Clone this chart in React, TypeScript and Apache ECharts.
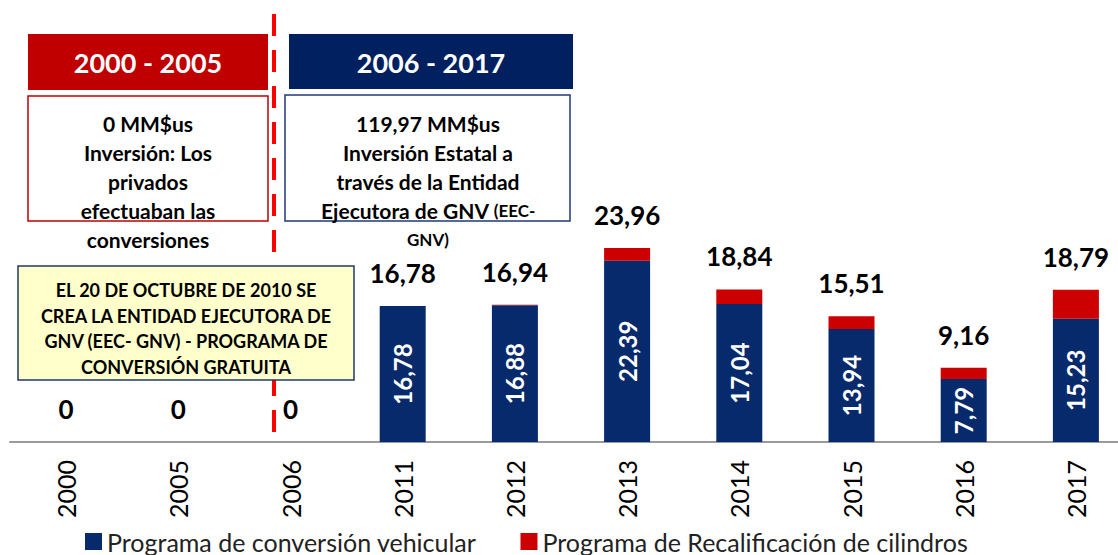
import React, { useEffect, useRef } from "react";
import * as echarts from "echarts";

const categories = ["2000", "2005", "2006", "2011", "2012", "2013", "2014", "2015", "2016", "2017"];
const conversion = [0, 0, 0, 16.78, 16.88, 22.39, 17.04, 13.94, 7.79, 15.23];
const recalificacion = [0, 0, 0, 0, 0.06, 1.57, 1.8, 1.57, 1.37, 3.56];
const totals = ["0", "0", "0", "16,78", "16,94", "23,96", "18,84", "15,51", "9,16", "18,79"];
const conversionLabels = ["", "", "", "16,78", "16,88", "22,39", "17,04", "13,94", "7,79", "15,23"];

const FONT = "Lato, 'Open Sans', sans-serif";
const NAVY = "#072a6c";
const RED = "#cc0000";

export default function App() {
  const ref = useRef<HTMLDivElement>(null);
  useEffect(() => {
    if (!ref.current) return;
    const chart = echarts.init(ref.current, undefined, { renderer: "svg" });
    const boldText = (text: string, x: number, y: number, size: number, color = "#000") => ({
      type: "text",
      z: 100,
      style: {
        text,
        x,
        y,
        align: "center",
        verticalAlign: "middle",
        fontSize: size,
        fontWeight: "bold",
        fontFamily: FONT,
        fill: color,
      },
    });
    chart.setOption({
      animation: false,
      textStyle: { fontFamily: FONT },
      grid: { left: 10, right: 0, top: 199, bottom: 113 },
      legend: {
        left: 80,
        top: 524,
        itemWidth: 17,
        itemHeight: 17,
        itemGap: 44,
        icon: "rect",
        textStyle: { fontSize: 25, color: "#222", fontFamily: FONT },
        data: ["Programa de conversión vehicular", "Programa de Recalificación de cilindros"],
      },
      xAxis: {
        type: "category",
        data: categories,
        axisTick: { show: false },
        axisLine: { lineStyle: { color: "#9a9a9a", width: 2 } },
        axisLabel: { rotate: 90, fontSize: 25, color: "#000", margin: 18, fontFamily: FONT },
      },
      yAxis: { type: "value", min: 0, max: 30, show: false, splitLine: { show: false } },
      series: [
        {
          name: "Programa de conversión vehicular",
          type: "bar",
          stack: "t",
          barWidth: 46,
          data: conversion,
          itemStyle: { color: NAVY },
          label: {
            show: true,
            position: "inside",
            rotate: 90,
            color: "#fff",
            fontSize: 24,
            fontWeight: "bold",
            fontFamily: FONT,
            formatter: (p: any) => conversionLabels[p.dataIndex],
          },
        },
        {
          name: "Programa de Recalificación de cilindros",
          type: "bar",
          stack: "t",
          barWidth: 46,
          data: recalificacion,
          itemStyle: { color: RED },
          label: {
            show: true,
            position: "top",
            distance: 20,
            color: "#000",
            fontSize: 26,
            fontWeight: "bold",
            fontFamily: FONT,
            formatter: (p: any) => totals[p.dataIndex],
          },
        },
      ],
      graphic: [
        {
          type: "line",
          z: 50,
          shape: { x1: 274, y1: 14, x2: 274, y2: 444 },
          style: { stroke: "#ff0000", lineWidth: 4, lineDash: [22, 14] },
        },
        { type: "rect", z: 90, shape: { x: 28, y: 34, width: 240, height: 56 }, style: { fill: "#c00000" } },
        boldText("2000 - 2005", 148, 62, 27, "#fff"),
        { type: "rect", z: 90, shape: { x: 289, y: 34, width: 284, height: 55 }, style: { fill: "#002060" } },
        boldText("2006 - 2017", 431, 62, 27, "#fff"),
        {
          type: "rect",
          z: 90,
          shape: { x: 28, y: 96, width: 240, height: 125 },
          style: { fill: "#fff", stroke: "#c00000", lineWidth: 1.5 },
        },
        boldText("0 MM$us", 148, 123, 21),
        boldText("Inversión: Los", 148, 152, 21),
        boldText("privados", 148, 181, 21),
        boldText("efectuaban las", 148, 210, 21),
        boldText("conversiones", 148, 239, 21),
        {
          type: "rect",
          z: 90,
          shape: { x: 285, y: 95, width: 285, height: 126 },
          style: { fill: "#fff", stroke: "#1f3a7a", lineWidth: 1.5 },
        },
        boldText("119,97 MM$us", 428, 123, 21),
        boldText("Inversión Estatal a", 428, 152, 21),
        boldText("través de la Entidad", 428, 181, 21),
        {
          type: "text",
          z: 100,
          style: {
            text: "{a|Ejecutora de GNV }{b|(EEC-}",
            x: 428,
            y: 210,
            align: "center",
            verticalAlign: "middle",
            fill: "#000",
            rich: {
              a: { fontSize: 21, fontWeight: "bold", fontFamily: FONT, fill: "#000" },
              b: { fontSize: 17, fontWeight: "bold", fontFamily: FONT, fill: "#000" },
            },
          },
        },
        boldText("GNV)", 428, 239, 17),
        {
          type: "rect",
          z: 90,
          shape: { x: 18, y: 266, width: 336, height: 114 },
          style: { fill: "#ffffcc", stroke: "#1f3864", lineWidth: 1.5 },
        },
        boldText("EL 20 DE OCTUBRE DE 2010 SE", 186, 290, 18),
        boldText("CREA LA ENTIDAD EJECUTORA DE", 186, 316, 18),
        boldText("GNV (EEC- GNV) - PROGRAMA DE", 186, 341, 18),
        boldText("CONVERSIÓN GRATUITA", 186, 367, 18),
      ],
    });
    return () => chart.dispose();
  }, []);
  return (
    <div style={{ position: "absolute", left: 0, top: 0, width: 1118, height: 555, overflow: "hidden", background: "#fff" }}>
      <div ref={ref} style={{ width: 1132, height: 555 }} />
    </div>
  );
}
